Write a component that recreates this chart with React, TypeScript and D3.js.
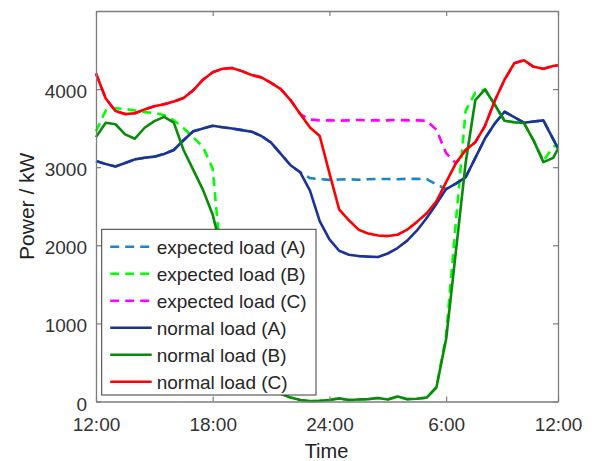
import React, { useEffect, useRef } from "react";
import * as d3 from "d3";

// time in hours after 12:00, half-hour steps, last sample at 11:45
const hours = [...d3.range(0, 24, 0.5), 23.75];
const tickHours = [0, 6, 12, 18, 23.75];
const tickLabels = ["12:00", "18:00", "24:00", "6:00", "12:00"];
const yTicks = [0, 1000, 2000, 3000, 4000];

const legendLabels = [
  "expected load (A)",
  "expected load (B)",
  "expected load (C)",
  "normal load (A)",
  "normal load (B)",
  "normal load (C)",
];

const normalA = [
  3080, 3040, 3010, 3055, 3100, 3120, 3135, 3170, 3220, 3345, 3460, 3495,
  3530, 3512, 3495, 3475, 3455, 3400, 3315, 3170, 3025, 2935, 2700, 2310,
  2075, 1930, 1880, 1862, 1855, 1850, 1895, 1965, 2060, 2190, 2350, 2530,
  2720, 2790, 2870, 3120, 3370, 3560, 3710, 3640, 3570, 3585, 3600, 3360,
  3240,
];
const expectedA = [
  3080, 3040, 3010, 3055, 3100, 3120, 3135, 3170, 3220, 3345, 3460, 3495,
  3530, 3512, 3495, 3475, 3455, 3400, 3315, 3170, 3025, 2935, 2860, 2848,
  2838, 2842, 2845, 2840, 2845, 2850, 2848, 2845, 2852, 2850, 2848, 2780,
  2720, 2790, 2870, 3120, 3370, 3560, 3710, 3640, 3570, 3585, 3600, 3360,
  3240,
];
const normalB = [
  3385, 3570, 3550, 3420, 3365, 3505, 3590, 3645, 3570, 3220, 2965, 2710,
  2390, 1900, 1350, 850, 500, 280, 170, 100, 50, 20, 5, 10,
  20, 40, 20, 25, 30, 45, 25, 65, 30, 35, 50, 180,
  800, 1920, 3050, 3860, 3995, 3800, 3595, 3575, 3565, 3340, 3065, 3120,
  3235,
];
const expectedB = [
  3460, 3725, 3755, 3745, 3725, 3705, 3695, 3665, 3600, 3500, 3380, 3260,
  2980, 1600, 900, 600, 500, 280, 170, 100, 50, 20, 5, 10,
  20, 40, 20, 25, 30, 45, 25, 65, 30, 35, 50, 180,
  850, 2300, 3720, 3955, 3995, 3800, 3595, 3575, 3565, 3340, 3080, 3260,
  3290,
];
const normalC = [
  4200, 3880, 3720, 3680, 3690, 3740, 3780, 3805, 3840, 3885, 3985, 4120,
  4215, 4260, 4270, 4230, 4180, 4150, 4080, 4000, 3860, 3680, 3508, 3400,
  2925, 2460, 2320, 2200, 2150, 2125, 2118, 2135, 2200, 2300, 2410, 2564,
  2810, 3050, 3220, 3320, 3530, 3850, 4120, 4330, 4370, 4285, 4260, 4295,
  4305,
];
const expectedC = [
  4200, 3880, 3720, 3680, 3690, 3740, 3780, 3805, 3840, 3885, 3985, 4120,
  4215, 4260, 4270, 4230, 4180, 4150, 4080, 4000, 3860, 3680, 3610, 3600,
  3600, 3595, 3600, 3605, 3600, 3600, 3600, 3605, 3600, 3600, 3595, 3480,
  3180, 3050, 3220, 3320, 3530, 3850, 4120, 4330, 4370, 4285, 4260, 4295,
  4305,
];

const seriesData = [expectedA, expectedB, expectedC, normalA, normalB, normalC];
const colors = ["#1a86cf", "#00ff00", "#ff00ff", "#1c3296", "#0a8a0a", "#ff0000"];
const dashes = ["9,6", "9,6", "9,6", null, null, null];

const FONT = "'Liberation Sans', Arial, Helvetica, sans-serif";

const App = () => {
  const svgRef = useRef<SVGSVGElement>(null);

  useEffect(() => {
    const width = 595;
    const height = 461;
    const left = 96,
      right = 558,
      top = 11,
      bottom = 401.5;

    const svg = d3.select(svgRef.current);
    svg.selectAll("*").remove();
    svg.attr("width", width).attr("height", height);

    const x = d3.scaleLinear().domain([0, 23.75]).range([left, right]);
    const y = d3.scaleLinear().domain([0, 5000]).range([bottom, top]);

    svg.append("rect").attr("width", width).attr("height", height).attr("fill", "white");

    // lines
    const line = d3
      .line<number>()
      .x((_, i) => x(hours[i]))
      .y((d) => y(d));

    seriesData.forEach((s, i) => {
      svg
        .append("path")
        .datum(s)
        .attr("d", line)
        .attr("fill", "none")
        .attr("stroke", colors[i])
        .attr("stroke-width", 2.6)
        .attr("stroke-linejoin", "round")
        .attr("stroke-dasharray", dashes[i]);
    });

    // axes (ticks inside, box on)
    const axisColor = "#7d7d7d";
    const styleAxis = (g) => {
      g.selectAll(".domain").attr("stroke", axisColor).attr("stroke-width", 1.3);
      g.selectAll(".tick line").attr("stroke", axisColor).attr("stroke-width", 1.2);
      g.selectAll("text")
        .attr("fill", "#333")
        .style("font-family", FONT)
        .style("font-size", "19px");
    };

    svg
      .append("g")
      .attr("transform", `translate(0,${bottom})`)
      .call(
        d3
          .axisBottom(x)
          .tickValues(tickHours)
          .tickFormat((_, i) => tickLabels[i])
          .tickSize(-5)
          .tickSizeOuter(0)
          .tickPadding(16)
      )
      .call(styleAxis);

    svg
      .append("g")
      .attr("transform", `translate(0,${top})`)
      .call(d3.axisTop(x).tickValues(tickHours).tickFormat(() => "").tickSize(-5).tickSizeOuter(0))
      .call(styleAxis);

    svg
      .append("g")
      .attr("transform", `translate(${left},0)`)
      .call(
        d3
          .axisLeft(y)
          .tickValues(yTicks)
          .tickFormat(d3.format("d"))
          .tickSize(-5)
          .tickSizeOuter(0)
          .tickPadding(9)
      )
      .call(styleAxis)
      .selectAll("text")
      .attr("dy", "0.45em");

    svg
      .append("g")
      .attr("transform", `translate(${right},0)`)
      .call(d3.axisRight(y).tickValues(yTicks).tickFormat(() => "").tickSize(-5).tickSizeOuter(0))
      .call(styleAxis);

    // axis titles
    svg
      .append("text")
      .attr("x", (left + right) / 2 - 0.5)
      .attr("y", 451)
      .attr("dy", "0.35em")
      .attr("text-anchor", "middle")
      .attr("fill", "#222")
      .style("font-family", FONT)
      .style("font-size", "20px")
      .text("Time");

    svg
      .append("text")
      .attr("transform", `translate(27,${(top + bottom) / 2}) rotate(-90)`)
      .attr("dy", "0.35em")
      .attr("text-anchor", "middle")
      .attr("fill", "#222")
      .style("font-family", FONT)
      .style("font-size", "21px")
      .text("Power / kW");

    // legend
    const legend = svg.append("g").attr("transform", "translate(101.7,229.3)");
    legend
      .append("rect")
      .attr("width", 214.3)
      .attr("height", 165.7)
      .attr("fill", "white")
      .attr("stroke", "#3a3a3a")
      .attr("stroke-width", 1);

    legendLabels.forEach((label, i) => {
      const cy = 17.4 + i * 27;
      legend
        .append("line")
        .attr("x1", 8.5)
        .attr("x2", 50)
        .attr("y1", cy)
        .attr("y2", cy)
        .attr("stroke", colors[i])
        .attr("stroke-width", 2.6)
        .attr("stroke-dasharray", dashes[i]);
      legend
        .append("text")
        .attr("x", 55)
        .attr("y", cy)
        .attr("dy", "0.36em")
        .attr("fill", "#262626")
        .style("font-family", FONT)
        .style("font-size", "19px")
        .text(label);
    });
  }, []);

  return (
    <div style={{ position: "absolute", left: 0, top: 0 }}>
      <svg ref={svgRef} style={{ display: "block" }}></svg>
    </div>
  );
};

export default App;
